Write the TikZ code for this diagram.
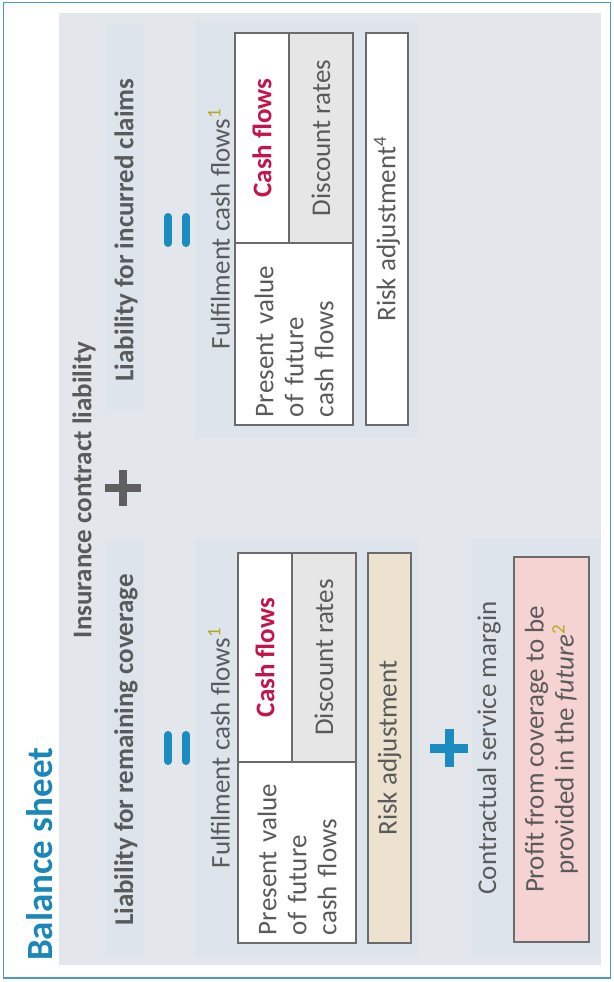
\documentclass[tikz,border=0pt]{standalone}
\usepackage{fontspec}
\setmainfont{Carlito}
\definecolor{titleblue}{HTML}{1B87B9}
\definecolor{borderblue}{HTML}{4A9AC8}
\definecolor{panelgray}{HTML}{E3E6EA}
\definecolor{bandblue}{HTML}{DDE4EC}
\definecolor{txtgray}{HTML}{5A5A5A}
\definecolor{boxline}{HTML}{6B6B6B}
\definecolor{crimson}{HTML}{C4154B}
\definecolor{beige}{HTML}{ECE2CF}
\definecolor{discfill}{HTML}{E6E6E6}
\definecolor{pinkfill}{HTML}{F6D3D3}
\definecolor{supcol}{HTML}{B5A820}
\definecolor{plusgray}{HTML}{5F5F5F}
\definecolor{plusblue}{HTML}{1A8CC0}
\tikzset{
  vtext/.style={rotate=90, text=txtgray, inner sep=0pt},
  bodyfont/.style={font=\fontsize{27}{30}\selectfont},
  headfont/.style={font=\bfseries\fontsize{27}{30}\selectfont},
  cellbox/.style={rotate=90, draw=boxline, line width=1.4pt, inner sep=0pt,
    text=txtgray, bodyfont},
  band/.style={fill=bandblue},
  bar/.style={line width=8pt, line cap=round},
}
\begin{document}
\begin{tikzpicture}[x=1pt,y=-1pt]
\useasboundingbox (0,0) rectangle (613,982);
% border and panel
\draw[borderblue, line width=1.3pt] (3.5,2.5) rectangle (610.5,978);
\fill[panelgray] (59,13) rectangle (601,965);
% subtle bands
\fill[band] (106,24) rectangle (144,410);
\fill[band] (106,540) rectangle (144,956);
\fill[band] (195,22) rectangle (418,438);
\fill[band] (195,540) rectangle (418,956);
\fill[band] (472,538) rectangle (600,956);
% title
\node[rotate=90, anchor=west, inner sep=0pt, text=titleblue,
  font=\bfseries\fontsize{37}{40}\selectfont] (title) at (40,961) {Balance sheet};
% top heading
\node[vtext, headfont] (icl) at (84,490) {Insurance contract liability};
% gray plus
\coordinate (gp) at (123,488);
\draw[plusgray, line width=8pt] ([yshift=-18pt]gp) -- ([yshift=18pt]gp);
\draw[plusgray, line width=8pt] ([xshift=-18pt]gp) -- ([xshift=18pt]gp);
% column headers
\node[vtext, headfont] (lrc) at (126,750) {Liability for remaining coverage};
\node[vtext, headfont] (lic) at (126,230) {Liability for incurred claims};
% equals signs
\coordinate (eqL) at (177,748);
\coordinate (eqR) at (177,230);
\foreach \c in {eqL,eqR}{
  \draw[plusblue, bar] ([xshift=-9pt,yshift=-13pt]\c) -- ([xshift=-9pt,yshift=13pt]\c);
  \draw[plusblue, bar] ([xshift=9pt,yshift=-13pt]\c) -- ([xshift=9pt,yshift=13pt]\c);
}
% fulfilment labels
\node[vtext, bodyfont] (fcfL) at (219,748) {Fulfilment cash flows\textsuperscript{\color{supcol}1}};
\node[vtext, bodyfont] (fcfR) at (219,229) {Fulfilment cash flows\textsuperscript{\color{supcol}1}};
% left column cells
\node[cellbox, fill=white, minimum width=209pt, minimum height=54pt] (cashL) at (265,657.5)
  {\bfseries\color{crimson}Cash flows};
\node[cellbox, fill=discfill, minimum width=209pt, minimum height=64pt] (discL) at (324,657.5)
  {Discount rates};
\node[cellbox, fill=white, minimum width=181pt, minimum height=118pt,
  text width=165pt, align=left] (pvL) at (297,852.5)
  {Present value\\of future\\cash flows};
\node[cellbox, fill=beige, minimum width=390pt, minimum height=43pt] (raL) at (389.5,748)
  {Risk adjustment};
% right column cells
\node[cellbox, fill=white, minimum width=210pt, minimum height=54pt] (cashR) at (262,138)
  {\bfseries\color{crimson}Cash flows};
\node[cellbox, fill=discfill, minimum width=210pt, minimum height=64pt] (discR) at (321,138)
  {Discount rates};
\node[cellbox, fill=white, minimum width=182pt, minimum height=118pt,
  text width=166pt, align=left] (pvR) at (294,334)
  {Present value\\of future\\cash flows};
\node[cellbox, fill=white, minimum width=392pt, minimum height=42pt] (raR) at (387,229)
  {Risk adjustment\textsuperscript{4}};
% blue plus
\coordinate (bp) at (449,748);
\draw[plusblue, line width=9pt] ([yshift=-19pt]bp) -- ([yshift=19pt]bp);
\draw[plusblue, line width=9pt] ([xshift=-19pt]bp) -- ([xshift=19pt]bp);
% CSM
\node[vtext, bodyfont] (csmlab) at (489,748) {Contractual service margin};
\node[cellbox, fill=pinkfill, minimum width=385pt, minimum height=75pt, align=center] (csm) at (551.5,749.5)
  {Profit from coverage to be\\provided in the \textit{future}\textsuperscript{\color{supcol}2}};
\end{tikzpicture}
\end{document}
